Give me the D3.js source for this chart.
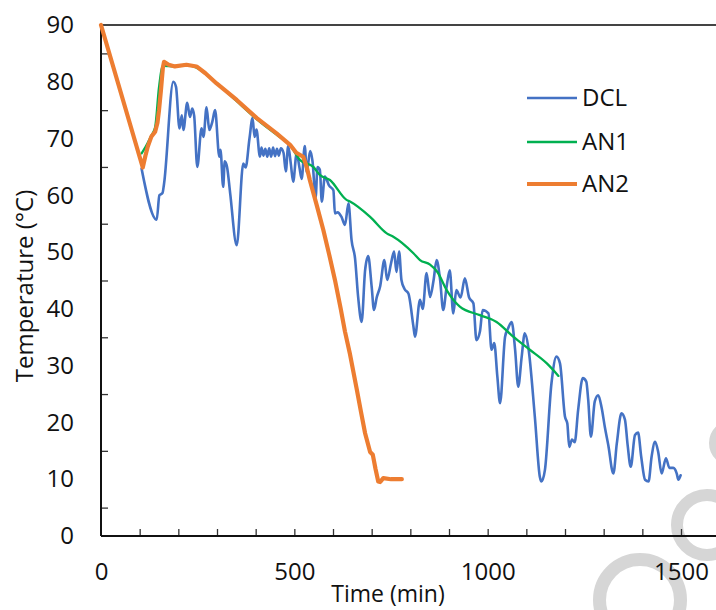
<!DOCTYPE html>
<html>
<head>
<meta charset="utf-8">
<script src="https://cdn.jsdelivr.net/npm/d3@7"></script>
<style>
  html, body { margin: 0; padding: 0; background: #fff; }
  svg { display: block; }
  text { font-family: "Open Sans", "Noto Sans", sans-serif; fill: #111; }
</style>
</head>
<body>
<svg id="chart" width="716" height="610"></svg>
<script>
// ---- data (time in min, temperature in °C) ----
const seriesNames = ["DCL", "AN1", "AN2"];
const seriesColors = ["#4472C4", "#00B050", "#ED7D31"];
const xTickLabels = [0, 500, 1000, 1500];
const yTickLabels = [0, 10, 20, 30, 40, 50, 60, 70, 80, 90];

const dcl = [
  [105,64.7],[144,55.7],[151,60],[159,60.4],[163,62],[187,80],[194,79.1],[203,71.8],[209,74.1],[213,71.5],
  [223,76.3],[230,73.8],[236,75.3],[241,74],[249,65],[260,71.8],[265,70.3],[273,75.5],[280,71.5],[288,73],
  [295,75],[306,66.8],[309,68],[316,61.5],[320,66],[326,65],[334,60.4],[351,51.2],[368,65.6],[374,64.9],
  [384,70],[392,73.6],[397,70.3],[402,71.6],[411,66.8],[415,68.4],[420,67],[425,68.2],[430,66.8],[435,68.3],
  [440,66.8],[445,68.4],[450,66.9],[455,68.2],[460,67],[465,68.3],[472,67.5],[478,64.2],[484,68.7],[491,65.5],
  [497,62.4],[506,67.4],[513,65],[519,62.9],[527,68.7],[532,64.1],[541,67.8],[547,66],[555,59.6],[560,65],
  [566,64.5],[571,58.9],[579,63.3],[590,61.7],[601,60.9],[605,56.8],[612,57],[622,56.2],[631,54.8],[640,58.6],
  [648,52.1],[657,48.9],[665,42.1],[674,37.7],[683,46.8],[691,49.3],[700,43.9],[706,39.8],[713,42],[722,44],
  [733,48.6],[740,45.1],[750,48],[758,50.1],[764,46.5],[771,50.1],[777,45.1],[785,43.5],[795,42.7],[808,36.9],
  [812,35.1],[825,41.6],[832,40],[842,46.3],[851,42.1],[860,45],[868,48.6],[877,45.1],[885,39.8],[894,44],
  [902,46.8],[911,39.2],[919,43.3],[930,42],[941,45.4],[952,42],[963,41],[971,34.5],[980,36],[987,39.8],
  [1002,39.2],[1010,32.8],[1017,34],[1025,28.1],[1032,23.4],[1045,35.1],[1053,36.6],[1062,37.7],[1071,32.8],[1079,26.3],
  [1088,31.6],[1096,35.7],[1105,33.3],[1122,21],[1135,10.4],[1139,9.6],[1148,11.6],[1165,26.9],[1178,31.6],[1187,30.4],
  [1200,21],[1206,19.8],[1211,15.7],[1218,17],[1225,16.5],[1234,22.2],[1246,27.8],[1255,27.2],[1260,24],[1267,17.5],
  [1277,23.7],[1286,24.8],[1295,22.5],[1303,19.2],[1312,16],[1325,11],[1334,16.3],[1346,21.6],[1355,20.5],[1362,16],
  [1370,12.2],[1381,17.8],[1389,18.2],[1397,14],[1407,9.9],[1416,9.6],[1424,14],[1433,16.6],[1441,14.8],[1450,11],
  [1461,13.7],[1470,12],[1480,12],[1489,11],[1493,9.9],[1499,10.7]
];

const an1 = [
  [105,67.4],[115,68.5],[130,70.5],[140,72],[150,79],[160,82.8],[190,82.7],[220,83],[247,82.5],[299,79.7],
  [351,76.6],[403,73.4],[454,70.7],[489,68.8],[515,66.2],[549,65],[566,63.6],[592,62.7],[635,59.2],[644,58.9],
  [696,56.2],[739,53.3],[756,52.7],[808,49.8],[825,48.6],[851,47.8],[870,46.5],[894,43.3],[911,41.6],[928,40.4],
  [980,38.9],[1023,37.7],[1066,35.1],[1109,32.8],[1153,30.4],[1183,28.2]
];

const an2 = [
  [0,90],[108,64.9],[115,67],[121,68.6],[130,70.3],[140,71.2],[146,72.8],[150,75],[155,78.5],[160,82.5],
  [163,83.5],[175,83],[191,82.7],[221,83],[247,82.7],[270,81.5],[299,79.7],[351,76.8],[403,73.6],[454,70.9],
  [489,68.9],[505,67.5],[523,66.8],[532,65],[540,62.7],[557,58.5],[575,53.9],[590,49.6],[605,45.1],[620,40],
  [631,36],[644,32],[661,26],[672,22],[683,18.1],[696,14.8],[703,14.3],[710,11.8],[717,9.6],[722,9.5],
  [730,10.2],[750,10],[778,10]
];

const seriesData = [dcl, an1, an2];

// ---- layout ----
const svg = d3.select("#chart");
const plotLeft = 101, plotTop = 25, plotBottom = 536;
const x = d3.scaleLinear().domain([0, 1600]).range([plotLeft, plotLeft + 1600 * 0.38667]);
const y = d3.scaleLinear().domain([0, 90]).range([plotBottom, plotTop]);

// watermark (decorative, behind the chart)
const wm = svg.append("g").attr("fill", "none").attr("stroke", "#d6d6d6").attr("stroke-width", 12);
wm.append("circle").attr("cx", 732).attr("cy", 443).attr("r", 17);
wm.append("circle").attr("cx", 707).attr("cy", 525).attr("r", 30);
wm.append("circle").attr("cx", 640).attr("cy", 600).attr("r", 40.5).attr("stroke-width", 13);

// top border
svg.append("line").attr("x1", plotLeft).attr("x2", 716).attr("y1", plotTop).attr("y2", plotTop)
  .attr("stroke", "#444").attr("stroke-width", 2);

// y axis labels
const yAxis = d3.axisLeft(y).tickValues(yTickLabels).tickSize(0).tickPadding(27).tickFormat(d3.format("d"));
const gy = svg.append("g").attr("transform", `translate(${plotLeft},0)`).call(yAxis);
gy.select(".domain").remove();
gy.selectAll("text").style("font-size", "24px").attr("fill", "#111");

// y minor ticks (inward)
const yMinor = d3.axisRight(y).tickValues(d3.range(5, 90, 10)).tickSize(7).tickFormat("");
const gym = svg.append("g").attr("transform", `translate(${plotLeft},0)`).call(yMinor);
gym.select(".domain").remove();
gym.selectAll("line").attr("stroke", "#333").attr("stroke-width", 1.3);

// x axis labels
const xAxis = d3.axisBottom(x).tickValues(xTickLabels).tickSize(0).tickPadding(27).tickFormat(d3.format("d"));
const gx = svg.append("g").attr("transform", `translate(0,${plotBottom})`).call(xAxis);
gx.select(".domain").remove();
gx.selectAll("text").style("font-size", "24px").attr("fill", "#111");

// x ticks (inward)
const xMinor = d3.axisBottom(x).tickValues(d3.range(100, 1600, 100)).tickSize(-7).tickFormat("");
const gxm = svg.append("g").attr("transform", `translate(0,${plotBottom})`).call(xMinor);
gxm.select(".domain").remove();
gxm.selectAll("line").attr("stroke", "#333").attr("stroke-width", 1.3);

// axis lines
svg.append("line").attr("x1", plotLeft).attr("x2", 716).attr("y1", plotBottom).attr("y2", plotBottom)
  .attr("stroke", "#111").attr("stroke-width", 2);
svg.append("line").attr("x1", plotLeft).attr("x2", plotLeft).attr("y1", plotTop).attr("y2", plotBottom)
  .attr("stroke", "#111").attr("stroke-width", 2);

// series lines
const curves = [d3.curveMonotoneX, d3.curveMonotoneX, d3.curveLinear];
const widths = [2.6, 2.3, 4.2];
seriesData.forEach((data, i) => {
  const line = d3.line().x(d => x(d[0])).y(d => y(d[1])).curve(curves[i]);
  svg.append("path").datum(data)
    .attr("fill", "none")
    .attr("stroke", seriesColors[i])
    .attr("stroke-width", widths[i])
    .attr("stroke-linejoin", "round")
    .attr("stroke-linecap", "round")
    .attr("d", line);
});

// legend
const legendY = [98, 142, 184];
seriesNames.forEach((name, i) => {
  svg.append("line").attr("x1", 527).attr("x2", 577).attr("y1", legendY[i]).attr("y2", legendY[i])
    .attr("stroke", seriesColors[i]).attr("stroke-width", widths[i]);
  svg.append("text").attr("x", 582).attr("y", legendY[i]).attr("dy", "0.35em")
    .style("font-size", "24px").text(name);
});

// axis titles
svg.append("text").attr("x", 388).attr("y", 602).attr("text-anchor", "middle")
  .style("font-size", "23px").text("Time (min)");
svg.append("text").attr("transform", "translate(33,286) rotate(-90)").attr("text-anchor", "middle")
  .style("font-size", "24px").text("Temperature (°C)");
</script>
</body>
</html>
